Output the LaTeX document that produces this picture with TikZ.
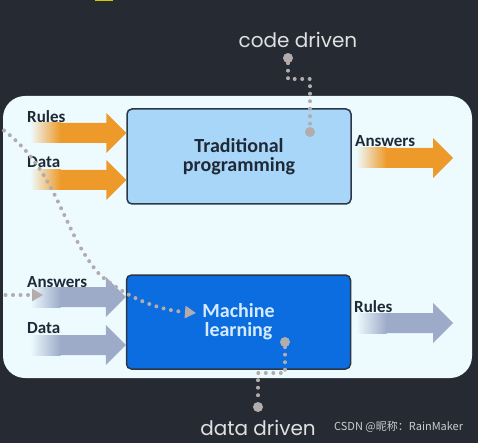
\documentclass[tikz,border=0pt]{standalone}
\usepackage{fontspec}
\usepackage{xcolor}
\usepackage{tikz}
\usetikzlibrary{arrows.meta,calc}

\newfontfamily\lblfont{Carlito}
\newfontfamily\capfont{Poppins}
\newfontfamily\cjkfont{Noto Sans CJK SC}

\definecolor{bgdark}{HTML}{262A33}
\definecolor{panel}{HTML}{EEFBFE}
\definecolor{tradfill}{HTML}{A7D6F8}
\definecolor{mlfill}{HTML}{0B6DE0}
\definecolor{boxline}{HTML}{2B3747}
\definecolor{orangeA}{HTML}{EE9A2A}
\definecolor{slateA}{HTML}{9DABC9}
\definecolor{dotgray}{HTML}{B3ACAC}
\definecolor{inkdark}{HTML}{1F2936}
\definecolor{mltext}{HTML}{D6EBFF}

% 粗箭头：#1 颜色，#2 起点，#3 箭尖
\newcommand{\fatarrow}[3]{%
  \fill[#1] let \p1=(#2), \p2=(#3) in
    (\x1+30pt,\y2+10pt) -- (\x2-20pt,\y2+10pt) -- (\x2-20pt,\y2+20pt) -- (\x2,\y2)
    -- (\x2-20pt,\y2-20pt) -- (\x2-20pt,\y2-10pt) -- (\x1+30pt,\y2-10pt) -- cycle;
  \shade[left color=panel, right color=#1] let \p1=(#2), \p2=(#3) in
    (\x1,\y2-10pt) rectangle (\x1+30.5pt,\y2+10pt);
}

\begin{document}
\begin{tikzpicture}[x=1pt,y=-1pt,
    box/.style={draw=boxline, line width=1.5pt, rounded corners=5pt,
      minimum width=224pt, minimum height=95pt, align=center,
      font=\lblfont\bfseries\fontsize{20}{19}\selectfont},
    lbl/.style={anchor=base west, inner sep=0pt, text=inkdark,
      font=\lblfont\bfseries\fontsize{17}{17}\selectfont},
    dots/.style={draw=dotgray, line width=4pt, line cap=round,
      dash pattern=on 0pt off 7.5pt},
    dotend/.style={circle, fill=dotgray, minimum size=10pt, inner sep=0pt},
    tip/.style={-{Triangle[length=11pt,width=12pt]}},
    caption/.style={text=white!88!black, inner sep=0pt,
      font=\capfont\fontsize{20}{20}\selectfont}]
  \useasboundingbox (0,0) rectangle (478,443);
  % 背景
  \fill[bgdark] (0,0) rectangle (478,443);
  \fill[yellow!60!olive] (95,0) rectangle (113,1.5);
  \fill[panel, rounded corners=22pt] (3,96) rectangle (472,378);

  % 两个方框
  \node[box, fill=tradfill, text=inkdark] (trad) at (239,156.5) {Traditional\\programming};
  \node[box, fill=mlfill, text=mltext, minimum height=94pt] (ml) at (238.5,322) {Machine\\learning};

  % 输入与输出的标签
  \node[lbl] (rulesIn) at (27,123) {Rules};
  \node[lbl] (dataIn) at (27,168) {Data};
  \node[lbl] (ansIn) at (27,287) {Answers};
  \node[lbl] (dataMl) at (27,333) {Data};
  \node[lbl] (ansOut) at (355,147) {Answers};
  \node[lbl] (rulesOut) at (354,312) {Rules};

  % 粗箭头
  \coordinate (r1) at (30,133);
  \coordinate (d1) at (30,180);
  \coordinate (a2) at (30,297);
  \coordinate (d2) at (30,345);
  \coordinate (a1s) at (356,158);
  \coordinate (a1e) at (453,158);
  \coordinate (r2s) at (356,323);
  \coordinate (r2e) at (453,323);
  \fatarrow{orangeA}{r1}{trad.west |- r1}
  \fatarrow{orangeA}{d1}{trad.west |- d1}
  \fatarrow{orangeA}{a1s}{a1e}
  \fatarrow{slateA}{a2}{ml.west |- a2}
  \fatarrow{slateA}{d2}{ml.west |- d2}
  \fatarrow{slateA}{r2s}{r2e}

  % 两个说明文字
  \node[caption] (code) at (298,40) {code driven};
  \node[caption] (data) at (258,428) {data driven};
  \node[anchor=west, inner sep=0pt, text=white!80!black,
    font=\cjkfont\fontsize{11}{11}\selectfont] (mark) at (334,427) {CSDN @昵称：RainMaker};

  % 点线
  \node[dotend] (cdTop) at (288,58) {};
  \node[dotend] (cdIn) at (310,132) {};
  \node[dotend] (ddIn) at (285,342) {};
  \node[dotend] (ddOut) at (258,407) {};
  \draw[dots] (cdTop) -- ++(0,21) -| (cdIn);
  \draw[dots] (ddIn) -- ++(0,31) -| (ddOut);
  \coordinate (curveS) at (-2,126);
  \coordinate (curveE) at (196,313);
  \coordinate (ansS) at (-2,295);
  \coordinate (ansE) at (43,295);
  \draw[dots, tip, dotgray] (curveS) .. controls (60,170) and (60,230) .. (100,275)
    .. controls (130,300) and (160,310) .. (curveE);
  \draw[dots, tip, dotgray] (ansS) -- (ansE);
\end{tikzpicture}
\end{document}
